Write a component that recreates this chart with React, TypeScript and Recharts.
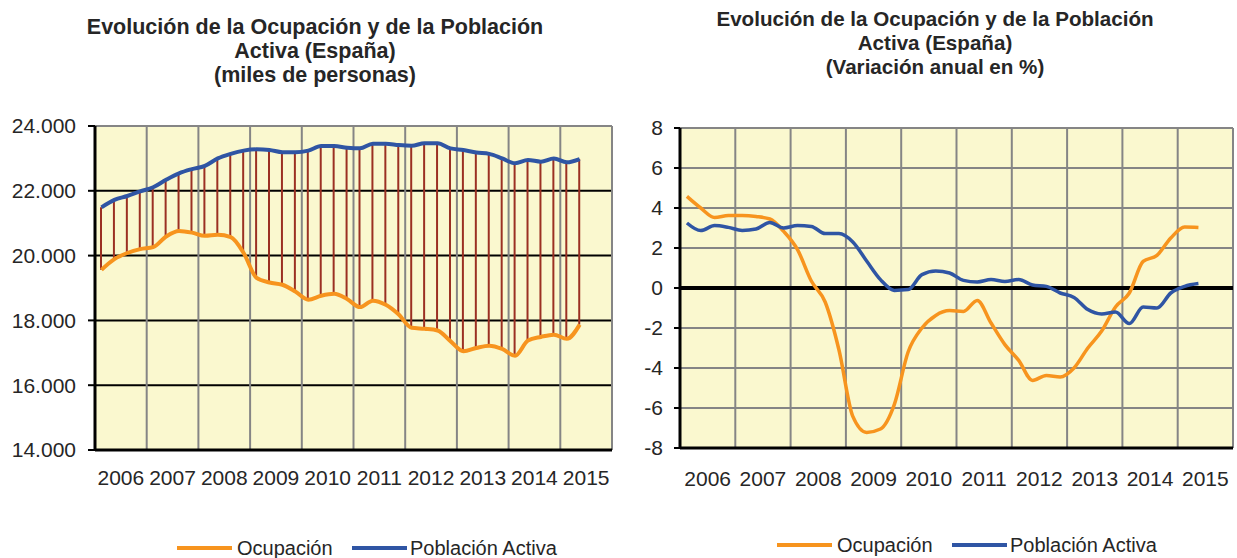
import React from 'react';
import { ComposedChart, Line, Bar, XAxis, YAxis, CartesianGrid, ReferenceLine } from 'recharts';

const years = ['2006', '2007', '2008', '2009', '2010', '2011', '2012', '2013', '2014', '2015'];

const quarters = [
  '2006T1', '2006T2', '2006T3', '2006T4', '2007T1', '2007T2', '2007T3', '2007T4',
  '2008T1', '2008T2', '2008T3', '2008T4', '2009T1', '2009T2', '2009T3', '2009T4',
  '2010T1', '2010T2', '2010T3', '2010T4', '2011T1', '2011T2', '2011T3', '2011T4',
  '2012T1', '2012T2', '2012T3', '2012T4', '2013T1', '2013T2', '2013T3', '2013T4',
  '2014T1', '2014T2', '2014T3', '2014T4', '2015T1', '2015T2',
];

// miles de personas
const ocupacion = [
  19560, 19890, 20080, 20200, 20260, 20590, 20760, 20710,
  20610, 20640, 20570, 20080, 19310, 19170, 19100, 18890,
  18640, 18760, 18820, 18660, 18410, 18610, 18480, 18180,
  17770, 17740, 17690, 17360, 17050, 17150, 17220, 17120,
  16910, 17380, 17490, 17560, 17430, 17870,
];

const activa = [
  21490, 21720, 21840, 21980, 22110, 22340, 22540, 22670,
  22770, 23000, 23140, 23240, 23280, 23260, 23190, 23190,
  23240, 23380, 23380, 23330, 23310, 23450, 23450, 23410,
  23390, 23470, 23470, 23310, 23260, 23180, 23140, 23000,
  22850, 22950, 22900, 23000, 22880, 22980,
];

// variación anual en %
const ocupacionVar = [
  4.58, 4.0, 3.53, 3.62, 3.63, 3.58, 3.45, 2.83,
  1.92, 0.35, -0.7, -3.1, -6.42, -7.22, -7.05, -5.83,
  -3.2, -2.0, -1.37, -1.13, -1.17, -0.62, -1.75, -2.83,
  -3.62, -4.62, -4.37, -4.45, -4.0, -3.0, -2.15, -0.95,
  -0.25, 1.33, 1.63, 2.5, 3.05, 3.03,
];

const activaVar = [
  3.25, 2.87, 3.12, 3.03, 2.88, 2.95, 3.28, 3.0,
  3.12, 3.08, 2.72, 2.72, 2.3, 1.35, 0.42, -0.12,
  -0.08, 0.67, 0.85, 0.75, 0.38, 0.3, 0.42, 0.33,
  0.42, 0.15, 0.08, -0.25, -0.47, -1.08, -1.3, -1.2,
  -1.78, -0.95, -1.0, -0.25, 0.08, 0.22,
];

const gridTicks = [0, 4, 8, 12, 16, 20, 24, 28, 32, 36, 40];
const yearTicks = years.map((_, i) => i * 4 + 2);
const leftYTicks = [14000, 16000, 18000, 20000, 22000, 24000];
const rightYTicks = [-8, -6, -4, -2, 0, 2, 4, 6, 8];

const leftData = quarters.map((q, i) => ({
  x: i + 0.5,
  q,
  ocup: ocupacion[i],
  act: activa[i],
  range: [ocupacion[i], activa[i]],
}));

const rightData = quarters.map((q, i) => ({
  x: i + 0.5,
  q,
  ocup: ocupacionVar[i],
  act: activaVar[i],
}));

const FONT = "'Liberation Sans', Arial, Helvetica, sans-serif";
const TEXT = '#262626';
const BG = '#FAF8CF';
const ORANGE = '#F7941E';
const BLUE = '#2F55A4';
const DROP = '#9B3023';
const GRAY = '#858585';

const fmtThousands = (v: number) => String(v).replace(/\B(?=(\d{3})+(?!\d))/g, '.');
const fmtYear = (v: number) => years[Math.round((v - 2) / 4)] ?? '';

const titleStyle: React.CSSProperties = {
  position: 'absolute',
  width: 600,
  textAlign: 'center',
  fontFamily: FONT,
  fontWeight: 'bold',
  lineHeight: '24px',
  color: TEXT,
};

function LegendItems({ left, top }: { left: number; top: number }) {
  const itemText: React.CSSProperties = {
    position: 'absolute',
    fontFamily: FONT,
    fontSize: 20,
    lineHeight: '20px',
    color: TEXT,
    whiteSpace: 'nowrap',
    top: -10,
  };
  const swatch = (color: string, x: number): React.CSSProperties => ({
    position: 'absolute',
    left: x,
    top: -2,
    width: 55,
    height: 4,
    background: color,
  });
  return (
    <div style={{ position: 'absolute', left, top }}>
      <div style={swatch(ORANGE, 0)} />
      <div style={{ ...itemText, left: 60 }}>Ocupación</div>
      <div style={swatch(BLUE, 175)} />
      <div style={{ ...itemText, left: 233 }}>Población Activa</div>
    </div>
  );
}

export default function App() {
  return (
    <div style={{ position: 'absolute', left: 0, top: 0, width: 1237, height: 558, background: '#fff', overflow: 'hidden' }}>
      <div style={{ ...titleStyle, fontSize: 21.5, left: 315 - 300, top: 15 }}>
        Evolución de la Ocupación y de la Población
        <br />
        Activa (España)
        <br />
        (miles de personas)
      </div>
      <div style={{ ...titleStyle, fontSize: 20.6, left: 935 - 300, top: 7 }}>
        Evolución de la Ocupación y de la Población
        <br />
        Activa (España)
        <br />
        (Variación anual en %)
      </div>

      <div style={{ position: 'absolute', left: 0, top: 0 }}>
        <ComposedChart width={625} height={558} data={leftData} margin={{ top: 126, right: 13, left: 0, bottom: 68 }}>
          <CartesianGrid xAxisId="g" vertical={false} horizontalValues={leftYTicks} stroke="#000" strokeWidth={2} fill={BG} fillOpacity={1} />
          <CartesianGrid xAxisId="g" horizontal={false} verticalValues={gridTicks} stroke={GRAY} strokeWidth={2} />
          <ReferenceLine xAxisId="g" y={24000} stroke={GRAY} strokeWidth={2} />
          <Bar xAxisId="g" dataKey="range" barSize={2} fill={DROP} isAnimationActive={false} />
          <Line xAxisId="g" type="monotone" dataKey="ocup" stroke={ORANGE} strokeWidth={4} dot={false} isAnimationActive={false} />
          <Line xAxisId="g" type="monotone" dataKey="act" stroke={BLUE} strokeWidth={4} dot={false} isAnimationActive={false} />
          <ReferenceLine xAxisId="g" y={14000} stroke="#000" strokeWidth={3} />
          <XAxis xAxisId="g" dataKey="x" type="number" domain={[0, 40]} ticks={gridTicks} height={0} hide />
          <XAxis
            xAxisId="lab"
            dataKey="x"
            type="number"
            domain={[0, 40]}
            ticks={yearTicks}
            interval={0}
            tickFormatter={fmtYear}
            axisLine={false}
            tickLine={false}
            height={40}
            tickMargin={14}
            tick={{ fill: TEXT, fontSize: 21, fontFamily: FONT }}
          />
          <YAxis
            type="number"
            domain={[14000, 24000]}
            ticks={leftYTicks}
            interval={0}
            tickFormatter={fmtThousands}
            width={95}
            axisLine={{ stroke: '#000', strokeWidth: 3 }}
            tickLine={{ stroke: '#000', strokeWidth: 2 }}
            tickSize={7}
            tickMargin={12}
            tick={{ fill: TEXT, fontSize: 21, fontFamily: FONT }}
          />
        </ComposedChart>
      </div>

      <div style={{ position: 'absolute', left: 620, top: 0 }}>
        <ComposedChart width={617} height={558} data={rightData} margin={{ top: 128, right: 4, left: 0, bottom: 70 }}>
          <CartesianGrid xAxisId="g" horizontalValues={rightYTicks} verticalValues={gridTicks} stroke={GRAY} strokeWidth={2} fill={BG} fillOpacity={1} />
          <ReferenceLine xAxisId="g" y={0} stroke="#000" strokeWidth={4} />
          <Line xAxisId="g" type="monotone" dataKey="ocup" stroke={ORANGE} strokeWidth={3.5} dot={false} isAnimationActive={false} />
          <Line xAxisId="g" type="monotone" dataKey="act" stroke={BLUE} strokeWidth={3.5} dot={false} isAnimationActive={false} />
          <ReferenceLine xAxisId="g" y={-8} stroke="#000" strokeWidth={3} />
          <XAxis xAxisId="g" dataKey="x" type="number" domain={[0, 40]} ticks={gridTicks} height={0} hide />
          <XAxis
            xAxisId="lab"
            dataKey="x"
            type="number"
            domain={[0, 40]}
            ticks={yearTicks}
            interval={0}
            tickFormatter={fmtYear}
            axisLine={false}
            tickLine={false}
            height={40}
            tickMargin={17}
            tick={{ fill: TEXT, fontSize: 21, fontFamily: FONT }}
          />
          <YAxis
            type="number"
            domain={[-8, 8]}
            ticks={rightYTicks}
            interval={0}
            width={60}
            axisLine={{ stroke: '#000', strokeWidth: 3 }}
            tickLine={{ stroke: '#000', strokeWidth: 2 }}
            tickSize={6}
            tickMargin={11}
            tick={{ fill: TEXT, fontSize: 21, fontFamily: FONT }}
          />
        </ComposedChart>
      </div>

      <LegendItems left={177} top={548} />
      <LegendItems left={777} top={545} />
    </div>
  );
}
